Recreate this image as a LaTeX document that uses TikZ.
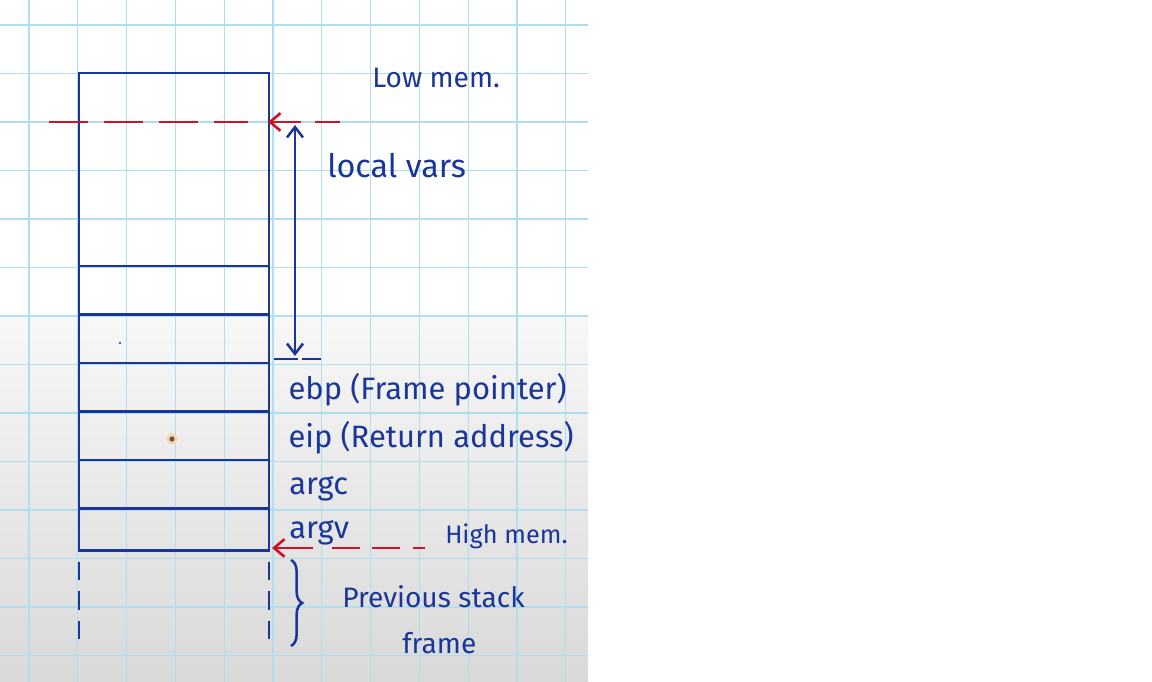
\documentclass[tikz,border=0pt]{standalone}
\usepackage{fontspec}
\setmainfont{Fira Sans}
\usepackage{tikz}
\usetikzlibrary{arrows.meta, positioning, decorations.pathreplacing}

\definecolor{inkblue}{RGB}{26,54,152}
\definecolor{inkred}{RGB}{206,18,40}
\definecolor{gridblue}{RGB}{176,222,240}

\begin{document}
\begin{tikzpicture}[
    x=0.025cm, y=-0.025cm,
    node distance=0pt,
    cell/.style={rectangle, draw=inkblue, line width=1.8pt, minimum width=4.75cm, minimum height=1.2125cm, inner sep=0pt, outer sep=0pt},
    hand/.style={font=\fontsize{20}{24}\selectfont, text=inkblue, inner sep=0pt},
    rowlbl/.style={hand, font=\fontsize{22}{26}\selectfont},
    ink/.style={draw=inkblue, line width=1.8pt},
    redptr/.style={draw=inkred, line width=1.9pt},
    gridline/.style={draw=gridblue, line width=0.9pt},
]
    % Paper
    \useasboundingbox (0,0) rectangle (1152,682);
    \fill[white] (0,0) rectangle (1152,682);
    \shade[top color=black!3, bottom color=black!15] (0,318) rectangle (588,682);
    \foreach \gx in {29,77.8,...,580} \draw[gridline] (\gx,0) -- (\gx,682);
    \foreach \gy in {25,73.5,...,680} \draw[gridline] (0,\gy) -- (588,\gy);

    % Stack frame
    \node[cell, minimum height=4.825cm, anchor=north west] (locals) at (79,73) {};
    \node[cell, below=of locals] (free1) {};
    \node[cell, below=of free1] (free2) {};
    \node[cell, below=of free2] (ebp) {};
    \node[cell, below=of ebp] (eip) {};
    \node[cell, below=of eip] (argc) {};
    \node[cell, minimum height=1.05cm, below=of argc] (argv) {};
    \fill[inkblue] (120,343) circle (0.8pt);
    \fill[orange!35] (172,439) circle (4pt);
    \fill[gray!70!black] (172,439) circle (1.8pt);

    % Previous frame (continues below)
    \draw[ink, dash pattern=on 13pt off 8pt] ([yshift=-0.28cm]argv.south west) -- ([yshift=-2.3cm]argv.south west);
    \draw[ink, dash pattern=on 13pt off 8pt] ([yshift=-0.28cm]argv.south east) -- ([yshift=-2.3cm]argv.south east);

    % Labels
    \node[hand, anchor=base west] (low) at (372,88) {Low mem.};
    \node[hand, anchor=base west, font=\fontsize{23}{26}\selectfont] (lvars) at (327,178) {local vars};
    \node[rowlbl, right=0.48cm of ebp, yshift=-0.05cm] (ebplbl) {ebp (Frame pointer)};
    \node[rowlbl, right=0.48cm of eip, yshift=-0.05cm] (eiplbl) {eip (Return address)};
    \node[rowlbl, right=0.5cm of argc, yshift=-0.12cm] (argclbl) {argc};
    \node[rowlbl, right=0.5cm of argv, yshift=-0.08cm] (argvlbl) {argv};
    \node[hand, anchor=base west, font=\fontsize{18}{22}\selectfont] (high) at (445,543) {High mem.};
    \node[hand, anchor=base west] (prev) at (342,607) {Previous stack};
    \node[hand, anchor=base west] (frm) at (402,653) {frame};

    % Stack pointer (low end)
    \coordinate (spL) at (49,122);
    \coordinate (sp) at (268,122);
    \coordinate (spR) at (340,122);
    \draw[redptr, dash pattern=on 28pt off 11pt] (spL) -- ([xshift=-0.5cm]sp);
    \draw[redptr, dash pattern=on 18pt off 10pt on 40pt, -{Straight Barb[length=2.6mm, width=4.4mm]}] (spR) -- (sp);

    % Extent of the locals
    \coordinate (lvtop) at (295,125);
    \coordinate (lvbot) at (295,356);
    \draw[ink, {Straight Barb[length=2.6mm, width=4mm]}-{Straight Barb[length=2.6mm, width=4mm]}] (lvtop) -- (lvbot);
    \draw[ink, dash pattern=on 17pt off 3pt] (274,359) -- (321,359);

    % Frame pointer side (high end)
    \coordinate (bp) at (272,548);
    \coordinate (bpR) at (425,548);
    \draw[redptr, dash pattern=on 8.5pt off 9pt on 20pt off 8.5pt on 20pt off 13.5pt on 40pt, -{Straight Barb[length=2.6mm, width=4.4mm]}] (bpR) -- (bp);

    % Previous stack frame brace
    \draw[ink, decorate, decoration={brace, amplitude=8pt}] (291,560) -- (291,646);
\end{tikzpicture}
\end{document}
